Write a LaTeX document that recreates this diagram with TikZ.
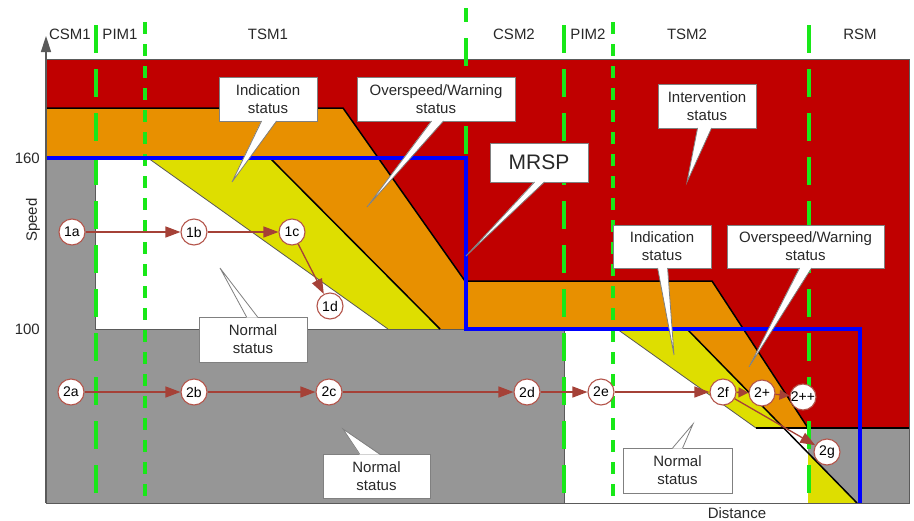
\documentclass[tikz,border=0pt]{standalone}
\usepackage{fontspec}
\setmainfont{Liberation Sans}
\usetikzlibrary{arrows.meta,calc}
\definecolor{cred}{RGB}{192,0,0}
\definecolor{corange}{RGB}{232,144,0}
\definecolor{cyellow}{RGB}{222,222,0}
\definecolor{cgray}{RGB}{150,150,150}
\definecolor{cgreen}{RGB}{24,232,24}
\definecolor{cblue}{RGB}{0,0,255}
\definecolor{cmark}{RGB}{180,85,75}
\definecolor{carrow}{RGB}{165,65,55}
\definecolor{ctext}{RGB}{40,40,40}
\definecolor{cedge}{RGB}{90,90,90}
\begin{document}
\begin{tikzpicture}[x=1pt,y=-1pt,
  lbl/.style={font=\fontsize{15}{18}\selectfont, text=ctext, inner sep=0pt},
  callbox/.style={draw=gray, fill=white, line width=0.8pt, align=center,
    font=\fontsize{15}{18}\selectfont, text=ctext, inner sep=0pt},
  wedgefill/.style={fill=white},
  wedgeline/.style={draw=gray, line width=0.8pt},
  stn/.style={circle, draw=cmark, fill=white, line width=1.1pt, minimum size=26pt,
    inner sep=0pt, font=\fontsize{14}{14}\selectfont, text=black},
  flow/.style={draw=carrow, line width=1.3pt, -{Triangle[length=15pt,width=11pt]}},
  flowshort/.style={draw=carrow, line width=1.3pt, -{Triangle[length=10pt,width=10pt]}},
  longdash/.style={cgreen, line width=4.5pt, dash pattern=on 28pt off 16pt},
  shortdash/.style={cgreen, line width=4pt, dash pattern=on 12pt off 10pt},
  bline/.style={black, line width=1.5pt},
  tline/.style={cedge, line width=0.8pt},
]
\useasboundingbox (0,0) rectangle (914,520);
% ---- regions
\fill[cred] (46,59) rectangle (909,503);
\fill[corange] (46,108) -- (343,108) -- (465,281) -- (712,281) -- (808,428) -- (808,503) -- (46,503) -- cycle;
\fill[cgray] (46,158) -- (95,158) -- (95,329) -- (564,329) -- (564,503) -- (46,503) -- cycle;
\fill[white] (95,158) -- (148,158) -- (388,329) -- (95,329) -- cycle;
\fill[cyellow] (148,158) -- (270,158) -- (440,329) -- (388,329) -- cycle;
\fill[white] (564,329) -- (617,329) -- (756,428) -- (808,428) -- (808,503) -- (564,503) -- cycle;
\fill[cyellow] (617,329) -- (687,329) -- (784,428) -- (756,428) -- cycle;
\fill[cyellow] (808,453) -- (857,503) -- (808,503) -- cycle;
\fill[cgray] (808,428) -- (909,428) -- (909,503) -- (857,503) -- (808,453) -- cycle;
% ---- boundary lines
\draw[tline] (95,158) -- (95,329) -- (564,329) -- (564,503);
\draw[tline] (148,158) -- (388,329);
\draw[tline] (617,329) -- (756,428);
\draw[bline] (46,108) -- (343,108) -- (465,281) -- (712,281) -- (808,428);
\draw[bline] (270,158) -- (440,329);
\draw[bline] (687,329) -- (857,503);
\draw[black, line width=2.5pt] (756,428) -- (909,428);
\draw[cedge, line width=1pt] (46,59) -- (909,59) -- (909,503) -- (46,503);
% ---- mode borders
\draw[longdash] (96,25) -- (96,503);
\draw[shortdash] (145,22) -- (145,503);
\draw[longdash, dash phase=14pt] (466,8) -- (466,329);
\draw[longdash] (564,25) -- (564,503);
\draw[shortdash] (613,22) -- (613,503);
\draw[longdash] (809,25) -- (809,503);
% ---- MRSP
\draw[cblue, line width=4pt] (46,158) -- (466,158) -- (466,329) -- (860,329) -- (860,503);
% ---- axis
\draw[cedge, line width=1.5pt, -{Triangle[length=16pt,width=10pt]}] (46,503) -- (46,36);
% ---- labels
\node[lbl] (csm1) at (70,34) {CSM1};
\node[lbl] (pim1) at (120,34) {PIM1};
\node[lbl] (tsm1) at (268,34) {TSM1};
\node[lbl] (csm2) at (514,34) {CSM2};
\node[lbl] (pim2) at (588,34) {PIM2};
\node[lbl] (tsm2) at (687,34) {TSM2};
\node[lbl] (rsm) at (860,34) {RSM};
\node[lbl, anchor=east] (v160) at (40,158) {160};
\node[lbl, anchor=east] (v100) at (40,329) {100};
\node[lbl, rotate=90] (speed) at (33,220) {Speed};
\node[lbl] (dist) at (737,513) {Distance};
% ---- callouts
\coordinate (tp1) at (232,182);
\coordinate (tp2) at (367,207);
\coordinate (tp3) at (466,256);
\coordinate (tp4) at (687,182);
\coordinate (tp5) at (674,355);
\coordinate (tp6) at (749,367);
\coordinate (tp7) at (220,268);
\coordinate (tp8) at (343,429);
\coordinate (tp9) at (693,424);
\node[callbox, minimum width=98pt, minimum height=44pt] (ind1) at (268,99) {Indication\\status};
\node[callbox, minimum width=158pt, minimum height=44pt] (ow1) at (436,99) {Overspeed/Warning\\status};
\node[callbox, minimum width=98pt, minimum height=39pt, font=\fontsize{21}{24}\selectfont] (mrsp) at (539,162.5) {MRSP};
\node[callbox, minimum width=98pt, minimum height=44pt] (int) at (707,106) {Intervention\\status};
\node[callbox, minimum width=98pt, minimum height=43pt] (ind2) at (662,246.5) {Indication\\status};
\node[callbox, minimum width=157pt, minimum height=43pt] (ow2) at (805.5,246.5) {Overspeed/Warning\\status};
\node[callbox, minimum width=108pt, minimum height=45pt] (nor1) at (253,339.5) {Normal\\status};
\node[callbox, minimum width=107pt, minimum height=44pt] (nor2) at (376.5,476) {Normal\\status};
\node[callbox, minimum width=109pt, minimum height=45pt] (nor3) at (677.5,470.5) {Normal\\status};
% wedges (pointers)
\fill[wedgefill] ($(ind1.south west)+(43,-1)$) -- (tp1) -- ($(ind1.south west)+(58,-1)$) -- cycle;
\draw[wedgeline] ($(ind1.south west)+(43,-0.4)$) -- (tp1) -- ($(ind1.south west)+(58,-0.4)$);
\fill[wedgefill] ($(ow1.south west)+(75,-1)$) -- (tp2) -- ($(ow1.south west)+(87,-1)$) -- cycle;
\draw[wedgeline] ($(ow1.south west)+(75,-0.4)$) -- (tp2) -- ($(ow1.south west)+(87,-0.4)$);
\fill[wedgefill] ($(mrsp.south west)+(45,-1)$) -- (tp3) -- ($(mrsp.south west)+(55,-1)$) -- cycle;
\draw[wedgeline] ($(mrsp.south west)+(45,-0.4)$) -- (tp3) -- ($(mrsp.south west)+(55,-0.4)$);
\fill[wedgefill] ($(int.south west)+(40,-1)$) -- (tp4) -- ($(int.south west)+(54,-1)$) -- cycle;
\draw[wedgeline] ($(int.south west)+(40,-0.4)$) -- (tp4) -- ($(int.south west)+(54,-0.4)$);
\fill[wedgefill] ($(ind2.south west)+(45,-1)$) -- (tp5) -- ($(ind2.south west)+(55,-1)$) -- cycle;
\draw[wedgeline] ($(ind2.south west)+(45,-0.4)$) -- (tp5) -- ($(ind2.south west)+(55,-0.4)$);
\fill[wedgefill] ($(ow2.south west)+(73,-1)$) -- (tp6) -- ($(ow2.south west)+(85,-1)$) -- cycle;
\draw[wedgeline] ($(ow2.south west)+(73,-0.4)$) -- (tp6) -- ($(ow2.south west)+(85,-0.4)$);
\fill[wedgefill] ($(nor1.north west)+(48,1)$) -- (tp7) -- ($(nor1.north west)+(59,1)$) -- cycle;
\draw[wedgeline] ($(nor1.north west)+(48,0.4)$) -- (tp7) -- ($(nor1.north west)+(59,0.4)$);
\fill[wedgefill] ($(nor2.north west)+(37,1)$) -- (tp8) -- ($(nor2.north west)+(57,1)$) -- cycle;
\draw[wedgeline] ($(nor2.north west)+(37,0.4)$) -- (tp8) -- ($(nor2.north west)+(57,0.4)$);
\fill[wedgefill] ($(nor3.north west)+(50,1)$) -- (tp9) -- ($(nor3.north west)+(60,1)$) -- cycle;
\draw[wedgeline] ($(nor3.north west)+(50,0.4)$) -- (tp9) -- ($(nor3.north west)+(60,0.4)$);
% ---- scenario markers
\node[stn] (s1a) at (72,232) {1a};
\node[stn] (s1b) at (194,232) {1b};
\node[stn] (s1c) at (292,232) {1c};
\node[stn] (s1d) at (330,306) {1d};
\node[stn] (s2a) at (71,392) {2a};
\node[stn] (s2b) at (194,392) {2b};
\node[stn] (s2c) at (329,392) {2c};
\node[stn] (s2d) at (527,392) {2d};
\node[stn] (s2e) at (601,392) {2e};
\node[stn] (s2f) at (723,392) {2f};
\node[stn] (s2p) at (762,393) {2+};
\node[stn] (s2pp) at (803,397) {2++};
\node[stn] (s2g) at (827,452) {2g};
\draw[flow] (s1a) -- (s1b);
\draw[flow] (s1b) -- (s1c);
\draw[flow] (s1c) -- (s1d);
\draw[flow] (s2a) -- (s2b);
\draw[flow] (s2b) -- (s2c);
\draw[flow] (s2c) -- (s2d);
\draw[flow] (s2d) -- (s2e);
\draw[flow] (s2e) -- (s2f);
\draw[flowshort] (s2f) -- (s2p);
\draw[flowshort] (s2p) -- (s2pp);
\draw[flow] (s2f) -- (s2g);
\end{tikzpicture}
\end{document}
